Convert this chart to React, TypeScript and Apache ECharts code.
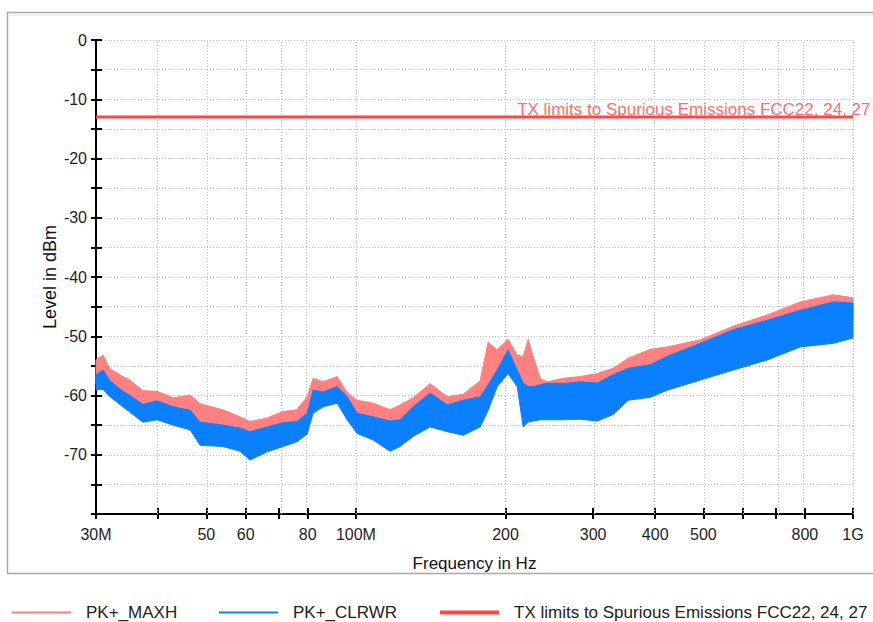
import React, { useEffect, useRef } from "react";
import * as echarts from "echarts";

// Frequency grid (MHz) at which the trace envelopes were read
const freqMHz = [
  30.0, 31.0, 32.0, 34.0, 35.1, 37.3, 39.8, 42.9, 46.4, 48.6,
  54.0, 58.5, 61.2, 66.3, 71.4, 76.1, 79.8, 82.0, 85.9, 91.7,
  96.0, 100.6, 108.3, 117.1, 122.7, 130.3, 141.0, 152.6, 164.4, 177.8,
  184.5, 192.4, 202.4, 211.1, 217.0, 222.1, 227.3, 234.8, 242.6, 261.2,
  282.6, 305.8, 329.3, 353.0, 390.9, 422.9, 492.8, 574.2, 672.3, 783.3,
  912.6, 1000,
];

// PK+_MAXH trace: upper / lower envelope (dBm)
const maxhHigh = [
  -54.0, -53.2, -55.5, -56.8, -57.4, -59.2, -59.3, -60.4, -59.9, -61.4,
  -62.4, -63.6, -64.4, -63.8, -62.7, -62.4, -60.2, -57.1, -57.7, -56.8,
  -59.5, -60.8, -61.3, -62.4, -61.6, -60.4, -58.0, -60.2, -59.8, -57.5,
  -51.0, -52.3, -50.5, -53.2, -53.4, -50.5, -53.4, -57.1, -57.7, -57.1,
  -56.8, -56.3, -55.4, -53.7, -52.2, -51.8, -50.6, -48.3, -46.4, -44.2,
  -43.0, -43.5,
];
const maxhLow = [
  -58.0, -57.5, -59.0, -60.5, -61.0, -62.5, -62.5, -63.5, -64.0, -65.5,
  -66.0, -67.0, -67.5, -67.0, -66.0, -65.5, -64.5, -60.5, -60.5, -60.0,
  -62.0, -64.0, -65.0, -66.0, -65.5, -63.5, -61.5, -63.0, -63.0, -62.0,
  -59.5, -56.5, -54.0, -56.5, -59.0, -60.0, -60.0, -60.0, -60.0, -60.0,
  -60.0, -60.0, -59.0, -58.0, -57.0, -56.0, -54.0, -52.5, -50.5, -48.5,
  -47.5, -47.0,
];

// PK+_CLRWR trace: upper / lower envelope (dBm)
const clrwrHigh = [
  -56.5, -55.7, -57.5, -59.3, -60.0, -61.5, -60.9, -61.9, -62.5, -64.5,
  -65.0, -65.5, -66.1, -65.3, -64.6, -64.4, -63.0, -59.1, -59.4, -58.5,
  -60.2, -63.0, -63.6, -64.3, -64.1, -61.9, -59.6, -61.6, -60.8, -60.2,
  -58.2, -55.7, -52.3, -55.7, -57.9, -58.5, -58.5, -58.2, -57.9, -58.0,
  -57.7, -57.9, -56.5, -55.4, -54.8, -53.4, -51.2, -48.9, -47.3, -45.6,
  -44.2, -44.4,
];
const clrwrLow = [
  -59.0, -59.0, -60.2, -61.9, -62.8, -64.5, -64.1, -65.0, -65.8, -68.4,
  -68.6, -69.4, -70.9, -69.5, -68.6, -67.8, -66.5, -63.0, -61.9, -61.3,
  -64.1, -66.4, -67.5, -69.4, -68.6, -66.9, -65.3, -66.1, -66.7, -65.3,
  -62.5, -58.5, -56.3, -58.5, -65.3, -64.5, -64.3, -64.1, -64.1, -64.1,
  -64.0, -64.3, -63.2, -60.8, -60.3, -59.1, -57.4, -55.7, -54.0, -51.8,
  -51.2, -50.3,
];

// Limit line
const limitFreqMHz = [30, 1000];
const limitLevelDbm = [-13, -13];

// Axis ticks / labels
const tickFreqMHz = [30, 40, 50, 60, 70, 80, 100, 200, 300, 400, 500, 600, 700, 800, 1000];
const labelFreqMHz = [30, 50, 60, 80, 100, 200, 300, 400, 500, 800, 1000];
const labelTexts = ["30M", "50", "60", "80", "100M", "200", "300", "400", "500", "800", "1G"];
const yMin = -80;
const yMax = 0;
const yStep = 5;

const seriesNames = [
  "PK+_MAXH",
  "PK+_CLRWR",
  "TX limits to Spurious Emissions FCC22, 24, 27",
];

const lg = (f: number) => Math.log10(f);
const FONT = "Liberation Sans";

export default function App() {
  const ref = useRef<HTMLDivElement>(null);

  useEffect(() => {
    document.body.style.margin = "0";
    if (!ref.current) return;
    const chart = echarts.init(ref.current, null, { renderer: "svg" });

    const band = (name: string, color: string, lo: number[], hi: number[]) => ({
      type: "custom",
      name,
      silent: true,
      z: 2,
      itemStyle: { color },
      data: freqMHz.map((f, i) => [lg(f), lo[i], hi[i]]),
      encode: { x: 0, y: [1, 2] },
      renderItem: (params: any, api: any) => {
        if (params.dataIndex !== 0) return null;
        const top = freqMHz.map((f, i) => api.coord([lg(f), hi[i]]));
        const bottom = freqMHz.map((f, i) => api.coord([lg(f), lo[i]])).reverse();
        return {
          type: "polygon",
          shape: { points: top.concat(bottom) },
          style: { fill: color, stroke: color, lineWidth: 1 },
        };
      },
    });

    const gridLineStyle = { color: "#c4c4c4", width: 1, type: [1, 2] };
    const axisColor = "#000";
    const labelColor = "#1e1e1e";
    const gridBox = { left: 96, right: 20, top: 40, bottom: 108, containLabel: false, outerBoundsMode: "none" };

    const legendBase = (name: string, left: number, h: number) => ({
      data: [{ name, icon: "rect" }],
      left,
      top: 599,
      itemWidth: 59,
      itemHeight: h,
      selectedMode: false,
      textStyle: {
        fontFamily: FONT,
        fontSize: 17,
        color: "#222",
        padding: [0, 0, 0, 10],
      },
    });

    const option: any = {
      animation: false,
      backgroundColor: "#fff",
      grid: [gridBox, { ...gridBox }],
      legend: [
        legendBase(seriesNames[0], 7, 2),
        legendBase(seriesNames[1], 214, 2),
        legendBase(seriesNames[2], 435, 4),
      ],
      xAxis: [
        {
          type: "value",
          gridIndex: 0,
          position: "bottom",
          min: lg(limitFreqMHz[0]),
          max: lg(limitFreqMHz[1]),
          name: "Frequency in Hz",
          nameLocation: "middle",
          nameGap: 41,
          nameMoveOverlap: false,
          nameTextStyle: { fontFamily: FONT, fontSize: 17, color: "#111" },
          axisLine: { show: true, onZero: false, lineStyle: { color: axisColor, width: 2 } },
          axisTick: {
            show: true,
            customValues: tickFreqMHz.map(lg),
            length: 5,
            lineStyle: { color: axisColor, width: 2 },
          },
          axisLabel: {
            customValues: labelFreqMHz.map(lg),
            formatter: (v: number) => {
              const i = labelFreqMHz.findIndex((f) => Math.abs(lg(f) - v) < 1e-6);
              return i >= 0 ? labelTexts[i] : "";
            },
            margin: 12,
            color: labelColor,
            fontFamily: FONT,
            fontSize: 16,
          },
          splitLine: { show: false },
        },
        {
          type: "value",
          gridIndex: 1,
          position: "bottom",
          min: lg(limitFreqMHz[0]),
          max: lg(limitFreqMHz[1]),
          axisLine: { show: false, onZero: false },
          axisTick: {
            show: true,
            inside: true,
            customValues: tickFreqMHz.map(lg),
            length: 6,
            lineStyle: { color: axisColor, width: 2 },
          },
          axisLabel: { show: false },
          splitLine: { show: false },
        },
      ],
      yAxis: [
        {
          type: "value",
          gridIndex: 0,
          min: yMin,
          max: yMax,
          interval: yStep,
          name: "Level in dBm",
          nameLocation: "middle",
          nameGap: 37,
          nameMoveOverlap: false,
          nameTextStyle: { fontFamily: FONT, fontSize: 18, color: "#111" },
          axisLine: { show: true, onZero: false, lineStyle: { color: axisColor, width: 2 } },
          axisTick: { show: true, length: 5, lineStyle: { color: axisColor, width: 2 } },
          axisLabel: {
            formatter: (v: number) =>
              Math.round(v) % 10 === 0 && v > yMin ? String(Math.round(v)) : "",
            margin: 9,
            color: labelColor,
            fontFamily: FONT,
            fontSize: 16,
          },
          splitLine: { show: true, lineStyle: gridLineStyle },
        },
        {
          type: "value",
          gridIndex: 1,
          position: "left",
          min: yMin,
          max: yMax,
          interval: yStep,
          axisLine: { show: false, onZero: false },
          axisTick: { show: true, inside: true, length: 6, lineStyle: { color: axisColor, width: 2 } },
          axisLabel: { show: false },
          splitLine: { show: false },
        },
      ],
      series: [
        band(seriesNames[0], "#ff8080", maxhLow, maxhHigh),
        band(seriesNames[1], "#0a80ff", clrwrLow, clrwrHigh),
        {
          type: "line",
          name: seriesNames[2],
          data: limitFreqMHz.map((f, i) => [lg(f), limitLevelDbm[i]]),
          symbol: "none",
          silent: true,
          z: 4,
          itemStyle: { color: "#ff4646" },
          lineStyle: { color: "#ff4646", width: 3 },
          markLine: {
            silent: true,
            z: 1,
            symbol: ["none", "none"],
            label: { show: false },
            lineStyle: gridLineStyle,
            emphasis: { disabled: true },
            data: tickFreqMHz.slice(1).map((f) => ({ xAxis: lg(f) })),
          },
        },
        {
          type: "scatter",
          name: "limit-text",
          data: [[lg(limitFreqMHz[1]), limitLevelDbm[1]]],
          symbolSize: 1,
          silent: true,
          itemStyle: { color: "rgba(0,0,0,0)" },
          label: {
            show: true,
            formatter: seriesNames[2],
            position: [18, 1],
            align: "right",
            verticalAlign: "bottom",
            color: "#ff4646",
            fontFamily: FONT,
            fontSize: 17,
          },
          z: 5,
        },
      ],
      graphic: [
        {
          type: "rect",
          silent: true,
          z: 100,
          shape: { x: 0, y: 574.5, width: 873, height: 22 },
          style: { fill: "#fff" },
        },
        {
          type: "rect",
          silent: true,
          z: 101,
          shape: { x: 7.5, y: 12.5, width: 900, height: 561 },
          style: { fill: "none", stroke: "#a8a8a8", lineWidth: 1.5 },
        },
        {
          type: "line",
          silent: true,
          z: 101,
          shape: { x1: 9, y1: 14.5, x2: 873, y2: 14.5 },
          style: { stroke: "#ececec", lineWidth: 2 },
        },
      ],
    };

    chart.setOption(option);
    return () => chart.dispose();
  }, []);

  return <div ref={ref} style={{ width: 873, height: 622 }} />;
}
